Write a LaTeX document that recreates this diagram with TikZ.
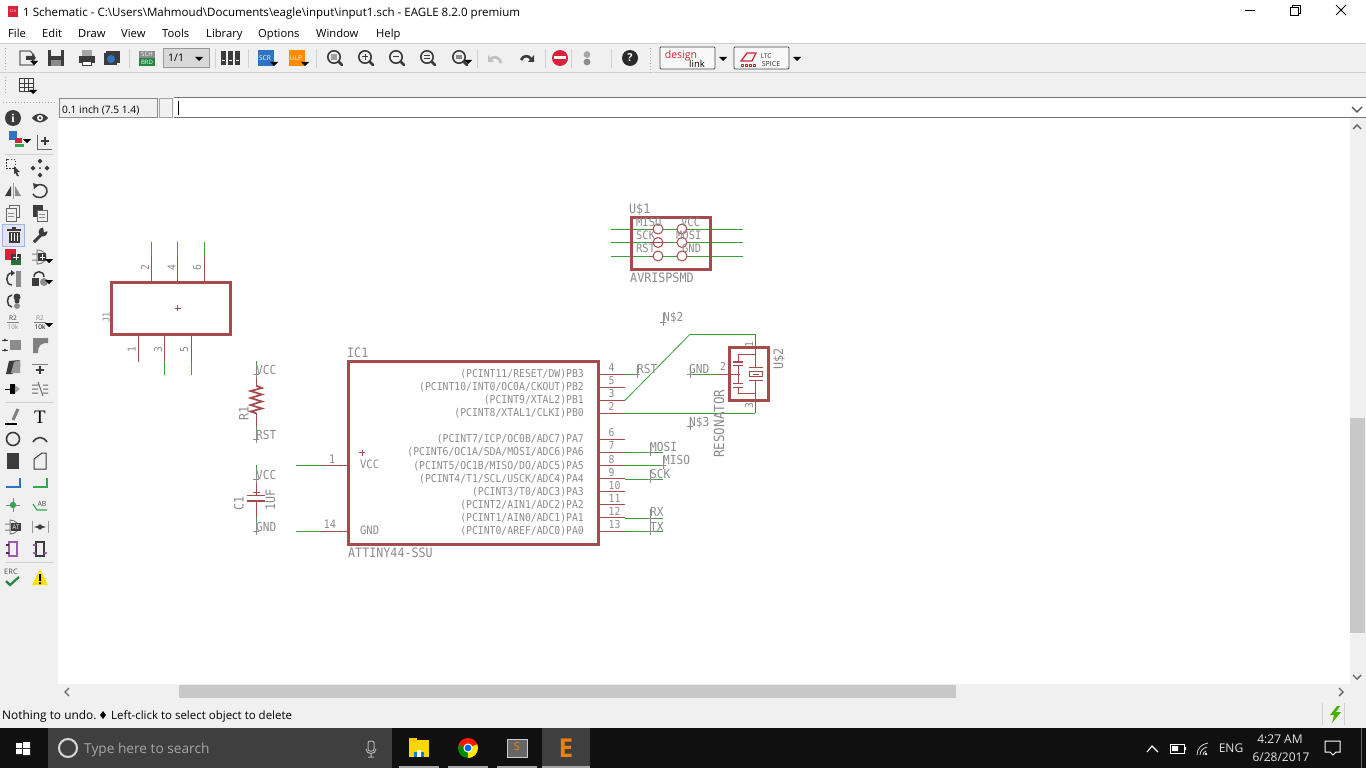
\documentclass[tikz,border=0pt]{standalone}
\usepackage{fontspec}
\setmainfont{Open Sans}
\newfontfamily\schf[FakeStretch=0.9]{DejaVu Sans Mono}
\newfontfamily\serf{Liberation Serif}
\definecolor{netred}{HTML}{A54B4B}
\definecolor{wiregreen}{HTML}{3A9E3A}
\definecolor{labgray}{HTML}{8C8C8C}
\definecolor{panel}{HTML}{F0F0F0}
\definecolor{thumb}{HTML}{C8C8C8}
\definecolor{icon}{HTML}{3C3C3C}
\definecolor{taskbar}{HTML}{101010}
\definecolor{searchbg}{HTML}{3F3F3F}
\definecolor{sep}{HTML}{D0D0D0}
\definecolor{uiblue}{HTML}{2F74C0}
\definecolor{uigreen}{HTML}{2FA84F}
\definecolor{uired}{HTML}{D8213B}
\newcommand\fs[1]{\fontsize{#1}{#1}\selectfont}
\newcommand\lab[3]{\node[schtext] at (#1,#2) {#3};}
\newcommand\nlab[3]{\node[schtext,font=\schf\fs{12.4}] at (#1,#2) {#3};}
\newcommand\ulab[3]{\node[schtext,font=\schf\fs{11.6}] at (#1,#2) {#3};}
\newcommand\labr[3]{\node[schtext,anchor=base east] at (#1,#2) {#3};}
\newcommand\biglab[3]{\node[schtext,font=\schf\fs{13}] at (#1,#2) {#3};}
\newcommand\vlab[3]{\node[schtext,font=\schf\fs{13},rotate=90] at (#1,#2) {#3};}
\newcommand\xmark[2]{\draw[gcross] (#1,#2-9) -- (#1,#2+3.5) (#1-3,#2) -- (#1+3,#2);}
\newcommand\pinline[2]{\draw[redwire] (598,#1) -- (625,#1); \node[schtext] at (608.5,#1-2.5) {#2};}
\newcommand\icon[3]{\begin{scope}[shift={(#1,#2)}] #3 \end{scope}}
\newcommand\drop[2]{\fill[black] (#1-4,#2-2) -- (#1+4,#2-2) -- (#1,#2+2) -- cycle;}
\tikzset{
  schtext/.style={font=\schf\fs{10.85},text=labgray,inner sep=0pt,anchor=base west},
  redwire/.style={draw=netred,line width=1pt},
  greenwire/.style={draw=wiregreen,line width=1pt},
  body/.style={draw=netred,line width=3pt},
  plate/.style={draw=netred,line width=1.6pt},
  gcross/.style={draw=labgray,line width=.8pt},
  uitext/.style={font=\fs{11.2},text=black,inner sep=0pt,anchor=base west},
  traytext/.style={font=\fs{12},text=white!90!black,inner sep=0pt},
  sepline/.style={draw=sep,line width=1pt},
  ico/.style={draw=icon,line width=1.4pt},
}
\begin{document}
\begin{tikzpicture}[x=1pt,y=-1pt]
\useasboundingbox (0,0) rectangle (1366,768);
\fill[white] (0,0) rectangle (1366,768);
% ---------- chrome panels
\fill[panel] (0,44) rectangle (1366,98);
\draw[sep] (0,43.5) -- (1366,43.5);
\draw[sep] (0,72.5) -- (1366,72.5);
\fill[panel] (0,98) rectangle (58,684);
\fill[panel] (58,98) rectangle (174,118);
\fill[panel] (1350,118) rectangle (1366,684);
\fill[panel] (0,684) rectangle (1366,728);
\draw[draw=black!55,line width=1pt] (174,97.5) -- (1366,97.5) (174,117.5) -- (1366,117.5);
\draw[draw=black!45,line width=.8pt] (59,98) rectangle (157,117);
\draw[draw=black!35,line width=.8pt] (159,98) rectangle (172,117);
\draw[draw=black,line width=1pt] (178,101) -- (178,115);
\draw[draw=black!70,line width=1.2pt] (1352,107) -- (1357,112) -- (1362,107);
\node[uitext,font=\fs{10.2}] at (62,113.5) {0.1 inch (7.5 1.4)};
% title bar
\fill[uired] (8,6) rectangle (18,17);
\node[font=\fs{3.5},text=white,inner sep=0pt] at (13,11) {SCH};
\node[uitext,font=\fs{11.55}] at (23,16.5) {1 Schematic - C:\textbackslash Users\textbackslash Mahmoud\textbackslash Documents\textbackslash eagle\textbackslash input\textbackslash input1.sch - EAGLE 8.2.0 premium};
\draw[black,line width=.8pt] (1245,10.5) -- (1255,10.5);
\draw[black,line width=.8pt] (1290,7) rectangle (1298,15) (1292,7) -- (1292,5) -- (1300,5) -- (1300,13) -- (1298,13);
\draw[black,line width=.8pt] (1336,5) -- (1346,15) (1346,5) -- (1336,15);
% menu
\node[uitext] at (8,38) {File};
\node[uitext] at (42,38) {Edit};
\node[uitext] at (78,38) {Draw};
\node[uitext] at (121,38) {View};
\node[uitext] at (162,38) {Tools};
\node[uitext] at (206,38) {Library};
\node[uitext] at (258,38) {Options};
\node[uitext] at (316,38) {Window};
\node[uitext] at (376,38) {Help};
% grips and toolbar separators
\foreach \yy in {48,51,...,69} \fill[black!30] (5,\yy) rectangle (6,\yy+1);
\foreach \yy in {48,51,...,72} \fill[black!30] (650,\yy) rectangle (651,\yy+1);
\foreach \yy in {77,80,...,93} \fill[black!30] (5,\yy) rectangle (6,\yy+1);
\foreach \xx in {3,6,...,54} \fill[black!30] (\xx,102) rectangle (\xx+1,103);
\foreach \xx in {129,215,248,316,477,545,571,611} \draw[sepline] (\xx,49) -- (\xx,68);
% ---------- top toolbar icons
\icon{27}{58}{\draw[ico,draw=black!60,fill=panel] (-7,-7) -- (3,-7) -- (7,-3) -- (7,7) -- (-7,7) -- cycle; \fill[icon] (-1,-2) -- (5,-2) -- (5,-4) -- (9,0) -- (5,4) -- (5,2) -- (-1,2) -- cycle; \drop{7}{5}}
\icon{56}{58}{\fill[icon] (-8,-8) rectangle (8,8); \fill[panel] (-5,-8) rectangle (5,-2); \fill[black!45] (-5,2) rectangle (5,8);}
\icon{87}{58}{\fill[icon] (-8,-2) rectangle (8,5); \fill[black!35] (-5,-8) rectangle (5,-2); \fill[icon] (-5,3) rectangle (5,8); \fill[white] (-4,4) rectangle (4,7);}
\icon{112}{58}{\fill[icon] (-6,-7) rectangle (8,5); \fill[icon] (-8,-5) rectangle (5,7); \fill[uiblue] (-1,1) circle (4);}
\icon{147}{58}{\fill[black!45] (-8,-7) rectangle (8,0); \fill[uigreen!80!black] (-8,0) rectangle (8,8); \node[font=\fs{6},text=white,inner sep=0pt] at (0,-3.5) {SCH}; \node[font=\fs{6},text=white,inner sep=0pt] at (0,4) {BRD};}
\draw[draw=black!40,fill=panel!90!black,line width=.8pt] (163,48) rectangle (209,67);
\node[uitext,font=\fs{10.5}] at (168,62) {1/1};
\drop{199}{59}
\icon{230}{58}{\foreach \dx in {-7,0,7} {\fill[icon] (\dx-2.5,-7) rectangle (\dx+2.5,7); \fill[white] (\dx-1.5,2) rectangle (\dx+1.5,3.5);}}
\icon{265}{58}{\fill[uiblue] (-7,-8) rectangle (9,8); \node[font=\fs{6.5},text=white,inner sep=0pt] at (0,0) {SCR}; \drop{9}{6}}
\icon{296}{58}{\fill[orange!90!yellow] (-7,-8) rectangle (9,8); \node[font=\fs{6.5},text=white,inner sep=0pt] at (0,0) {ULP}; \drop{9}{6}}
\foreach \xx/\kk in {335/0,366/1,397/2,428/3,460/4} {
  \begin{scope}[shift={(\xx,58)}]
  \draw[ico,line width=1.6pt] (-1,-1) circle (6.2);
  \draw[ico,line width=2.6pt,line cap=round] (3.6,3.6) -- (7,7);
  \ifnum\kk=1 \draw[ico,line width=1pt] (-4,-1) -- (2,-1) (-1,-4) -- (-1,2); \fi
  \ifnum\kk=2 \draw[ico,line width=1pt] (-4,-1) -- (2,-1); \fi
  \ifnum\kk=3 \draw[ico,line width=1pt] (-4,-2.5) -- (2,-2.5) (-4,.5) -- (2,.5); \fi
  \ifnum\kk=0 \fill[icon!50] (-4,-4) rectangle (2,2); \fi
  \ifnum\kk=4 \fill[icon!60] (-4,-3) rectangle (2,1); \drop{8}{4} \fi
  \end{scope}}
\icon{495}{59}{\draw[draw=black!25,line width=2.6pt] (6,4) .. controls (4,-3) and (-2,-3) .. (-4,0); \fill[black!25] (-7,-4) -- (-1,3) -- (-7,3) -- cycle;}
\icon{527}{59}{\draw[draw=icon,line width=2.6pt] (-6,1) .. controls (-4,-4) and (2,-4) .. (4,0); \fill[icon] (7,-4) -- (1,3) -- (7,3) -- cycle;}
\fill[uired] (560,58) circle (8);
\fill[white] (554,56.5) rectangle (566,59.5);
\fill[black!35] (587,54.5) circle (3.4);
\fill[black!45] (587,62) circle (3.4);
\fill[icon!70!black] (630,58) circle (8);
\node[font=\fs{11},text=white,inner sep=0pt] at (630,58) {\textbf{?}};
\draw[draw=black!70,fill=panel!50!white,line width=.8pt,rounded corners=1pt] (660,47) rectangle (715,69);
\node[font=\fs{10.5},text=uired,inner sep=0pt] at (681,55.5) {design};
\node[font=\fs{9.5},text=black,inner sep=0pt] at (697,64) {link};
\drop{723}{59}
\draw[draw=black!70,fill=panel!50!white,line width=.8pt,rounded corners=1pt] (734,47) rectangle (789,69);
\draw[draw=uired,line width=1.3pt] (741,61) -- (747,53) -- (756,53) -- (752,61) -- cycle;
\foreach \xx in {741,745,749,753} \draw[draw=uired,line width=.8pt] (\xx,64.5) rectangle (\xx+2,66);
\node[font=\fs{6.5},text=black!80,inner sep=0pt] at (766,56) {LTC};
\node[font=\fs{7},text=black!80,inner sep=0pt] at (771,63.5) {SPICE};
\drop{797}{59}
% grid icon
\icon{27}{86}{\draw[draw=icon,line width=1pt] (-7.5,-7) rectangle (6.5,6) (-7.5,-2.6) -- (6.5,-2.6) (-7.5,1.7) -- (6.5,1.7) (-2.8,-7) -- (-2.8,6) (1.8,-7) -- (1.8,6); \drop{6}{6}}
% ---------- left toolbar
\draw[sepline] (5,154) -- (53,154);
\draw[sepline] (5,402) -- (53,402);
\draw[sepline] (5,562) -- (53,562);
\icon{13}{118}{\fill[icon] (0,0) circle (8); \node[font=\serf\fs{12},text=white,inner sep=0pt] at (0,0) {\textbf{i}};}
\icon{40}{118}{\fill[icon] (-8,0) .. controls (-3,-6) and (3,-6) .. (8,0) .. controls (3,6) and (-3,6) .. (-8,0) -- cycle; \fill[white] (0,0) circle (3); \fill[icon] (0,0) circle (1.5);}
\icon{16}{139}{\fill[uiblue] (-7,-8) rectangle (1,1); \fill[uired] (-1,-1) rectangle (6,4); \fill[uigreen] (-1,5) rectangle (8,8); \drop{11}{2}}
\icon{44}{141}{\draw[draw=black!60,line width=1pt] (-7,-6) -- (-7,8) -- (8,8); \draw[draw=icon,line width=1.2pt] (-3,0) -- (5,0) (1,-4) -- (1,4);}
\icon{11}{165}{\draw[draw=icon,line width=1pt,dash pattern=on 1.5pt off 1.5pt] (-5,-6) rectangle (4,3); \fill[icon] (3,1) -- (9,7) -- (6,7) -- (8,11) -- (6,11) -- (4.5,8) -- (3,9) -- cycle;}
\icon{40}{168}{\foreach \dx/\dy in {0/-7,0/7,-7/0,7/0} \fill[icon] (\dx,\dy-2.5) -- (\dx+2.5,\dy) -- (\dx,\dy+2.5) -- (\dx-2.5,\dy) -- cycle; \fill[icon] (0,0) circle (1);}
\icon{13}{191}{\fill[icon] (-8,5) -- (-2,-5) -- (-2,5) -- cycle; \fill[black!45] (8,5) -- (2,-5) -- (2,5) -- cycle; \draw[draw=black!40,line width=.8pt] (0,-8) -- (0,8);}
\icon{40}{191}{\draw[draw=icon,line width=1.5pt] (-4,-5) .. controls (2,-9) and (8,-4) .. (7,1) .. controls (6,7) and (-3,9) .. (-7,3); \fill[icon] (-7,-8) -- (-1,-6) -- (-6,-2) -- cycle;}
\icon{13}{213}{\draw[draw=black!60,fill=panel,line width=1pt] (-4,-8) rectangle (6,4); \draw[draw=black!60,fill=panel,line width=1pt] (-7,-5) rectangle (3,8); \draw[draw=black!45,line width=.7pt] (-5,0) -- (1,0) (-5,3) -- (1,3);}
\icon{40}{213}{\fill[icon] (-7,-8) rectangle (3,4); \draw[draw=black!60,fill=panel,line width=1pt] (-3,-3) rectangle (7,8); \draw[draw=black!45,line width=.7pt] (-1,1) -- (5,1) (-1,4) -- (5,4);}
\draw[draw=cyan!50!blue!40,fill=cyan!10!blue!10!white,line width=1pt] (2,224) rectangle (24,246);
\icon{14}{235}{\fill[icon] (-7,-6) rectangle (7,-4.5); \fill[icon] (-2,-8) rectangle (2,-6); \fill[icon] (-5.5,-3.5) rectangle (5.5,8); \foreach \dx in {-3,0,3} \fill[white] (\dx-.5,-2) rectangle (\dx+.5,6);}
\icon{40}{235}{\draw[draw=icon,line width=3pt] (-6,7) -- (3,-2); \fill[icon] (3,-3) circle (4.5); \fill[panel] (3,-8) -- (8,-8) -- (8,-4) -- (4,-3) -- cycle;}
\icon{13}{257}{\fill[uired] (-8,-8) rectangle (3,3); \fill[uigreen!70!black] (-2,1) rectangle (8,8); \fill[icon] (-2,-3) rectangle (8,3); \draw[draw=white,line width=1pt] (0,0) -- (6,0) (3,-3) -- (3,3);}
\icon{40}{257}{\draw[draw=black!50,line width=1pt] (-8,-3) -- (-3,-3) (-8,3) -- (-3,3) (-3,-7) .. controls (4,-7) and (6,-2) .. (6,0) .. controls (6,2) and (4,7) .. (-3,7) -- cycle; \fill[icon] (-2,-4) rectangle (6,4); \draw[draw=white,line width=.9pt] (-.5,0) -- (4.5,0) (2,-3) -- (2,3); \drop{9}{4}}
\icon{13}{279}{\draw[draw=icon,line width=1.5pt] (-1,-6) .. controls (-8,-6) and (-8,6) .. (-1,6); \fill[icon] (-2,-9) -- (2,-6) -- (-2,-3) -- cycle; \fill[black!45] (3,-8) rectangle (8,8);}
\icon{40}{279}{\draw[draw=icon,line width=1.5pt] (-6,-2) .. controls (-6,-9) and (4,-9) .. (4,-2); \fill[icon] (-8,-1) rectangle (-1,7); \fill[black!45] (4,3) circle (4); \drop{9}{3}}
\icon{13}{301}{\draw[draw=icon,line width=1.5pt] (-1,-6) .. controls (-7,-6) and (-7,6) .. (-1,6); \fill[icon] (4,-4) circle (3.5); \fill[icon] (4,0) circle (2.5); \fill[black!45] (4,5) circle (3);}
\node[font=\fs{6.5},text=black!75,inner sep=0pt] at (13,318) {R2};
\draw[draw=black!50,line width=.8pt] (7,322) -- (19,322);
\node[font=\fs{6.5},text=black!45,inner sep=0pt] at (13,327) {10k};
\node[font=\fs{6.5},text=black!45,inner sep=0pt] at (40,318) {R2};
\draw[draw=black!50,line width=.8pt] (34,322) -- (46,322);
\node[font=\fs{6.5},text=black,inner sep=0pt] at (40,327) {10k};
\drop{49}{325}
\icon{13}{345}{\fill[black!45] (-3,-5) rectangle (8,5); \fill[icon] (-8,-5) circle (1.5) (-8,5) circle (1.5); \draw[draw=icon,line width=1pt] (-11,-5) -- (-5,-5) (-11,5) -- (-5,5);}
\icon{40}{345}{\fill[black!50] (-7,8) -- (-7,-7) -- (8,-7) -- (8,-2) .. controls (0,-2) and (-2,1) .. (-2,8) -- cycle;}
\icon{13}{367}{\fill[icon] (-7,7) -- (-4,-6) -- (7,-7) -- (7,0) -- (-1,7) -- cycle; \fill[black!40] (-2,6) -- (1,-5) -- (7,-7) -- (7,6) -- cycle;}
\icon{40}{367}{\draw[draw=black!50,line width=1pt] (-8,-3) -- (8,-3); \draw[draw=icon,line width=1.2pt] (-4,3) -- (4,3) (0,-1) -- (0,7);}
\icon{13}{389}{\fill[black] (-3,-5) rectangle (2,5); \draw[draw=black,line width=1pt] (-8,0) -- (-3,0); \fill[black!35] (2,-4) -- (7,0) -- (2,4) -- cycle;}
\icon{40}{389}{\draw[draw=black!60,line width=1pt] (-8,-4) -- (-2,-4) (-8,0) -- (-2,0) (-8,4) -- (-2,4) (3,-4) -- (8,-4) (3,0) -- (8,0) (3,4) -- (8,4) (-2,-7) -- (3,7);}
\icon{13}{417}{\draw[draw=black,line width=1.4pt] (-8,7) -- (4,7); \draw[draw=black!50,line width=3pt] (0,3) -- (5,-8);}
\node[font=\serf\fs{19},text=black,inner sep=0pt] at (40,417) {T};
\draw[draw=icon,line width=1.6pt] (13,439) circle (6.5);
\draw[draw=icon,line width=1.6pt] (33,442) .. controls (37,436) and (43,436) .. (47,442);
\fill[icon] (7,453) rectangle (19,469);
\draw[draw=icon,line width=1pt] (34,469) -- (34,459) -- (42,453) -- (46,453) -- (46,469) -- cycle;
\draw[draw=uiblue,line width=1.8pt] (6,487) -- (20,487) -- (20,478);
\draw[draw=uigreen,line width=1.4pt] (33,487) -- (47,487) -- (47,478);
\draw[draw=black!50,line width=1pt] (6,505) -- (20,505) (13,498) -- (13,512);
\fill[uigreen] (13,505) circle (3.2);
\draw[draw=uigreen,line width=1.2pt] (33,504) -- (37,510) -- (47,510);
\node[font=\fs{7},text=black!70,inner sep=0pt] at (42,504) {AB};
\icon{13}{527}{\draw[draw=black!50,line width=1pt] (-8,-3) -- (-3,-3) (-8,3) -- (-3,3) (-3,-7) .. controls (3,-7) and (6,-2) .. (6,0) .. controls (6,2) and (3,7) .. (-3,7) -- cycle; \fill[icon] (-2,-4) rectangle (8,4); \node[font=\fs{6.5},text=white,inner sep=0pt] at (3,0) {AT};}
\icon{40}{527}{\draw[draw=black!40,line width=1pt] (-8,-6) -- (-8,6) (8,-6) -- (8,6); \draw[draw=icon,line width=1.5pt,<->,>=latex] (-6,0) -- (6,0);}
\definecolor{pp}{HTML}{9A5CB0}
\icon{13}{549}{\draw[draw=pp,line width=1.3pt] (-4,-7) rectangle (4,7); \draw[draw=icon,line width=1.2pt] (-7,-4) -- (-4,-4) (-7,4) -- (-4,4);}
\icon{40}{549}{\draw[draw=icon,line width=1.3pt] (-4,-7) rectangle (4,7); \draw[draw=pp,line width=1.2pt] (-7,-4) -- (-4,-4) (-7,4) -- (-4,4) (4,4) -- (7,4);}
\node[font=\fs{7.5},text=black!70,inner sep=0pt] at (11,572) {ERC};
\draw[draw=uigreen!80!black,line width=2.2pt] (6,581) -- (10,585) -- (19,577);
\fill[yellow!85!orange] (40,569) -- (48,585) -- (32,585) -- cycle;
\fill[black] (39,574) rectangle (41,581) (39,582.3) rectangle (41,584);
% ---------- scrollbars
\fill[thumb] (179,685) rectangle (956,698);
\fill[thumb] (1350,418) rectangle (1365,633);
\draw[draw=black!60,line width=1.4pt] (69,688) -- (65,692) -- (69,696);
\draw[draw=black!60,line width=1.4pt] (1339,688) -- (1343,692) -- (1339,696);
\draw[draw=black!60,line width=1.4pt] (1353,129) -- (1357,125) -- (1361,129);
\draw[draw=black!60,line width=1.4pt] (1353,675) -- (1357,679) -- (1361,675);
% status bar
\node[uitext,font=\fs{11.9}] at (2,719) {Nothing to undo.};
\fill[black] (103,711) -- (106,715) -- (103,719) -- (100,715) -- cycle;
\node[uitext,font=\fs{11.5}] at (111,719) {Left-click to select object to delete};
\draw[sepline] (1322,703) -- (1322,725) (1344,703) -- (1344,725);
\fill[green!55!black!70!yellow] (1337,706) -- (1330,715) -- (1334,715) -- (1332,723) -- (1341,712) -- (1336,712) -- (1340,706) -- cycle;
% ---------- taskbar
\fill[taskbar] (0,728) rectangle (1366,768);
\fill[searchbg] (48,728) rectangle (392,768);
\fill[white] (16,743) rectangle (22,748) (23,742) rectangle (30,748) (16,749) rectangle (22,754) (23,749) rectangle (30,755);
\draw[draw=white!85!black,line width=2pt] (68,748) circle (9);
\node[font=\fs{13.7},text=black!35!white,inner sep=0pt,anchor=base west] at (84,753.5) {Type here to search};
\draw[draw=white!70!black,line width=1pt,rounded corners=2pt] (368,741) rectangle (374,751);
\draw[draw=white!70!black,line width=1pt] (366,749) .. controls (366,755) and (376,755) .. (376,749) (371,754) -- (371,757) (368,757) -- (374,757);
\fill[yellow!75!orange] (409,740) rectangle (429,757);
\fill[yellow!60!orange] (409,738) rectangle (417,742);
\fill[cyan!60!blue] (414,752) rectangle (424,757);
\fill[yellow!10!white] (417,750) rectangle (421,757);
\begin{scope}
\clip (468,748) circle (10);
\fill[red!80!orange] (458,738) rectangle (478,748);
\fill[green!55!black] (458,745) -- (468,748) -- (471,758) -- (458,758) -- cycle;
\fill[yellow!90!orange] (468,748) -- (478,744) -- (478,758) -- (468,758) -- cycle;
\end{scope}
\fill[white] (468,748) circle (4.6);
\fill[blue!60!cyan] (468,748) circle (3.4);
\fill[black!60] (507,739) rectangle (527,757);
\draw[draw=white!80!black,line width=.8pt] (507,739) rectangle (527,757);
\node[font=\fs{11},text=orange,inner sep=0pt] at (517,747) {S};
\fill[searchbg] (542,728) rectangle (590,768);
\node[font=\fs{26},text=orange!70!brown,inner sep=0pt] at (566,748) {\textbf{E}};
\foreach \xa/\xb in {399/439,448/488,497/537,542/590} \fill[black!35!white] (\xa,766) rectangle (\xb,768);
\draw[draw=white,line width=1.1pt] (1147,752) -- (1152,746) -- (1158,752);
\draw[draw=white,line width=1pt] (1170,744) rectangle (1184,753);
\fill[white] (1172,746) rectangle (1178,751) (1185,747) rectangle (1186,750);
\fill[white] (1206,754) circle (1.4);
\draw[draw=white!85!black,line width=.8pt] (1197,755) .. controls (1197,748) and (1202,744) .. (1208,743) (1200,755) .. controls (1200,751) and (1203,748) .. (1207,747) (1203,755) .. controls (1203,753) and (1204,752) .. (1206,751);
\node[traytext] at (1231,748) {ENG};
\node[traytext] at (1280,739) {4:27 AM};
\node[traytext] at (1281,757) {6/28/2017};
\draw[draw=white,line width=1pt] (1325,741) -- (1340,741) -- (1340,752) -- (1336,752) -- (1333,755) -- (1330,752) -- (1325,752) -- cycle;
\draw[draw=black!60,line width=.8pt] (1361,728) -- (1361,768);
% ---------- U$1
\draw[greenwire] (611,229) -- (743,229) (611,242.5) -- (743,242.5) (611,256) -- (743,256);
\foreach \yy in {229,242.5,256} {
  \draw[redwire,fill=white] (658,\yy) circle (5);
  \draw[redwire,fill=white] (682,\yy) circle (5);
  \draw[redwire] (650,\yy) -- (653,\yy) (687,\yy) -- (690,\yy);
}
\draw[redwire] (653,242.5) -- (667,242.5);
\draw[body] (631,217) rectangle (710,269);
\biglab{629}{213}{U\$1}
\ulab{636}{226}{MISO}
\ulab{681}{226}{VCC}
\ulab{636}{239}{SCK}
\ulab{676}{239}{MOSI}
\ulab{636}{252}{RST}
\ulab{682}{252}{GND}
\biglab{630}{282}{AVRISPSMD}
% ---------- J1
\draw[greenwire] (151.3,242) -- (151.3,256) (177.3,242) -- (177.3,256) (204.3,242) -- (204.3,256) (164.3,362) -- (164.3,374.5) (191.3,362) -- (191.3,374.5);
\draw[redwire] (151.3,256) -- (151.3,282) (177.3,256) -- (177.3,282) (204.3,256) -- (204.3,282) (138.3,334) -- (138.3,362) (164.3,334) -- (164.3,362) (191.3,334) -- (191.3,362);
\draw[body] (111.7,282) rectangle (230,334);
\draw[redwire] (174.5,308.3) -- (180.5,308.3) (177.5,305.3) -- (177.5,311.3);
\foreach \xx/\tx in {149/2,175.5/4,201/6} \node[schtext,rotate=90] at (\xx,271) {\tx};
\foreach \xx/\tx in {135.5/1,162/3,188/5} \node[schtext,rotate=90] at (\xx,353) {\tx};
\node[schtext,rotate=90,font=\schf\fs{9.5}] at (109.5,323) {J1};
% ---------- R1
\draw[greenwire] (256.3,361) -- (256.3,374.3) (256.3,426.7) -- (256.3,440);
\draw[redwire] (256.3,374.3) -- (256.3,385.7) (256.3,413.3) -- (256.3,426.7);
\draw[draw=netred,line width=1.7pt] (256.3,385.7) -- (262,388) -- (250.5,391) -- (262,394.5) -- (250.5,398) -- (262,401.5) -- (250.5,405) -- (262,408.5) -- (250.5,411.5) -- (256.3,413.3);
\xmark{256.3}{374.3}
\xmark{256.3}{439}
\nlab{256}{374}{VCC}
\nlab{256}{439}{RST}
\vlab{248.5}{420.5}{R1}
% ---------- C1
\draw[greenwire] (256.3,465) -- (256.3,479.3) (256.3,518.3) -- (256.3,531);
\draw[redwire] (256.3,479.3) -- (256.3,495.3) (256.3,501) -- (256.3,518.3) (253,492) -- (260,492);
\draw[plate] (246.7,495.3) -- (265,495.3) (246.7,501) -- (265,501);
\xmark{256.3}{479}
\xmark{256.3}{531}
\nlab{256}{479}{VCC}
\nlab{256}{531}{GND}
\vlab{243.5}{511}{C1}
\vlab{275}{510.5}{1UF}
% ---------- IC1
\draw[greenwire] (296,465.3) -- (322,465.3) (296,531) -- (322,531);
\draw[redwire] (322,465.3) -- (348,465.3) (322,531) -- (348,531);
\node[schtext,font=\schf\fs{11.6}] at (329,463) {1};
\node[schtext,font=\schf\fs{11.6}] at (323.5,528.5) {14};
\pinline{374.3}{4}
\pinline{387.3}{5}
\pinline{400.3}{3}
\pinline{413.3}{2}
\pinline{439.3}{6}
\pinline{452.3}{7}
\pinline{465.6}{8}
\pinline{478.6}{9}
\pinline{491.6}{10}
\pinline{504.6}{11}
\pinline{517.6}{12}
\pinline{531}{13}
\draw[body] (348,361) rectangle (598,544);
\biglab{347}{357}{IC1}
\biglab{348}{557}{ATTINY44-SSU}
\labr{584}{377.7}{(PCINT11/RESET/DW)PB3}
\labr{584}{390.7}{(PCINT10/INT0/OC0A/CKOUT)PB2}
\labr{584}{403.5}{(PCINT9/XTAL2)PB1}
\labr{584}{416.7}{(PCINT8/XTAL1/CLKI)PB0}
\labr{584}{442.7}{(PCINT7/ICP/OC0B/ADC7)PA7}
\labr{584}{455.7}{(PCINT6/OC1A/SDA/MOSI/ADC6)PA6}
\labr{584}{469.5}{(PCINT5/OC1B/MISO/DO/ADC5)PA5}
\labr{584}{482.7}{(PCINT4/T1/SCL/USCK/ADC4)PA4}
\labr{584}{495.7}{(PCINT3/T0/ADC3)PA3}
\labr{584}{508.5}{(PCINT2/AIN1/ADC2)PA2}
\labr{584}{521.7}{(PCINT1/AIN0/ADC1)PA1}
\labr{584}{534.7}{(PCINT0/AREF/ADC0)PA0}
\ulab{360}{468.7}{VCC}
\ulab{360}{534.7}{GND}
\draw[redwire] (359,452.7) -- (365,452.7) (362,449.7) -- (362,455.7);
% ---------- nets
\draw[greenwire] (625,374.3) -- (637,374.3);
\draw[greenwire,line width=.8pt] (625,400.3) -- (690,334.3);
\draw[greenwire] (690,334.3) -- (755,334.3);
\draw[greenwire] (625,413.3) -- (755,413.3);
\draw[greenwire] (625,452.3) -- (663.3,452.3);
\draw[greenwire] (625,465) -- (663.3,465);
\draw[greenwire] (625,479) -- (663.3,479);
\draw[greenwire] (625,518) -- (663.3,518);
\draw[greenwire] (625,531) -- (663.3,531);
\draw[greenwire] (690,374.3) -- (716.7,374.3);
\xmark{637}{374.3}
\xmark{663}{322}
\xmark{690}{374.3}
\xmark{690}{426}
\xmark{650.7}{452.3}
\xmark{663.3}{465}
\xmark{650.7}{479}
\xmark{650.7}{518}
\xmark{650.7}{531}
\nlab{637}{373.7}{RST}
\nlab{663}{321.7}{N\$2}
\nlab{689}{373.7}{GND}
\nlab{689}{426.3}{N\$3}
\nlab{650}{451}{MOSI}
\nlab{663}{464.3}{MISO}
\nlab{650}{478.3}{SCK}
\nlab{650}{516.7}{RX}
\nlab{650}{531}{TX}
% ---------- U$2 resonator
\draw[redwire] (755,334.3) -- (755,367.3) (755,380.3) -- (755,413.3);
\draw[redwire] (755,354.3) -- (738,354.3) -- (738,361.7) (738,365.3) -- (738,383.3) (738,387.3) -- (738,393.3) -- (755,393.3);
\draw[redwire] (716.7,374.3) -- (740,374.3);
\draw[plate] (733.3,361.7) -- (743.3,361.7) (733.3,365.3) -- (743.3,365.3) (733.3,383.3) -- (743.3,383.3) (733.3,387.3) -- (743.3,387.3);
\draw[plate] (749.3,367.3) -- (762.7,367.3) (749.3,380.3) -- (762.7,380.3);
\draw[draw=netred,line width=1.4pt] (749.3,371.3) rectangle (762.7,376.7);
\draw[redwire] (753,374) -- (759,374);
\draw[body] (729,347) rectangle (768.3,400);
\node[schtext] at (720,370.7) {2};
\node[schtext,rotate=90] at (753,348) {1};
\node[schtext,rotate=90] at (753,409) {3};
\vlab{783}{369.5}{U\$2}
\node[schtext,font=\schf\fs{14},rotate=90] at (724,458) {RESONATOR};
\end{tikzpicture}
\end{document}
